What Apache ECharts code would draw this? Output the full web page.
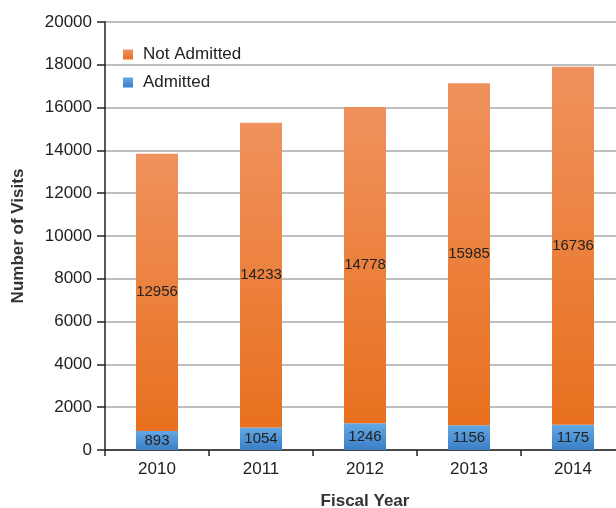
<!DOCTYPE html>
<html><head><meta charset="utf-8">
<script src="https://cdn.jsdelivr.net/npm/echarts@6/dist/echarts.min.js"></script>
<style>html,body{margin:0;padding:0;background:#fff}#c{width:616px;height:508px}</style>
</head><body><div id="c"></div>
<script>
const years = ['2010','2011','2012','2013','2014'];
const admitted = [893, 1054, 1246, 1156, 1175];
const notAdmitted = [12956, 14233, 14778, 15985, 16736];
const yTicks = [0,2000,4000,6000,8000,10000,12000,14000,16000,18000,20000];

const chart = echarts.init(document.getElementById('c'));
const font = 'Liberation Sans, Arial, sans-serif';
function grad(top, bottom){
  return new echarts.graphic.LinearGradient(0,0,0,1,[{offset:0,color:top},{offset:1,color:bottom}]);
}
chart.setOption({
  animation:false,
  textStyle:{fontFamily:font},
  legend:{
    orient:'vertical', left:118, top:41, itemWidth:10, itemHeight:10, itemGap:11,
    icon:'rect',
    textStyle:{fontSize:17,color:'#222',fontFamily:font,padding:[0,0,0,5]},
    data:['Not Admitted','Admitted']
  },
  grid:{left:105, right:-9, top:22, bottom:58, containLabel:false, outerBoundsMode:'none'},
  xAxis:{
    type:'category', data:years,
    name:'Fiscal Year', nameLocation:'middle', nameGap:43,
    nameTextStyle:{fontSize:17,fontWeight:'bold',color:'#333',fontFamily:font},
    axisLine:{lineStyle:{color:'#222',width:1.5}},
    axisTick:{show:true,length:6,lineStyle:{color:'#222',width:1.5}},
    axisLabel:{fontSize:17,color:'#222',margin:11,fontFamily:font}
  },
  yAxis:{
    type:'value', min:yTicks[0], max:yTicks[yTicks.length-1], interval:2000,
    name:'Number of Visits', nameLocation:'middle', nameGap:78, nameRotate:90,
    nameTextStyle:{fontSize:17,fontWeight:'bold',color:'#333',fontFamily:font},
    axisLine:{show:true,lineStyle:{color:'#222',width:1.5}},
    axisTick:{show:true,length:8,lineStyle:{color:'#222',width:1.5}},
    axisLabel:{fontSize:17,color:'#222',margin:13,fontFamily:font,formatter:function(v){return String(v);}},
    splitLine:{lineStyle:{color:'#aaa',width:1.5}}
  },
  series:[
    {name:'Admitted', type:'bar', stack:'t', barWidth:42, data:admitted,
     itemStyle:{color:grad('#64a8e6','#3a7ec6')},
     label:{show:true,position:'inside',fontSize:15,color:'#222',fontFamily:font}},
    {name:'Not Admitted', type:'bar', stack:'t', barWidth:42, data:notAdmitted,
     itemStyle:{color:grad('#f0925e','#e8701e')},
     label:{show:true,position:'inside',fontSize:15,color:'#222',fontFamily:font}}
  ]
});
</script></body></html>
